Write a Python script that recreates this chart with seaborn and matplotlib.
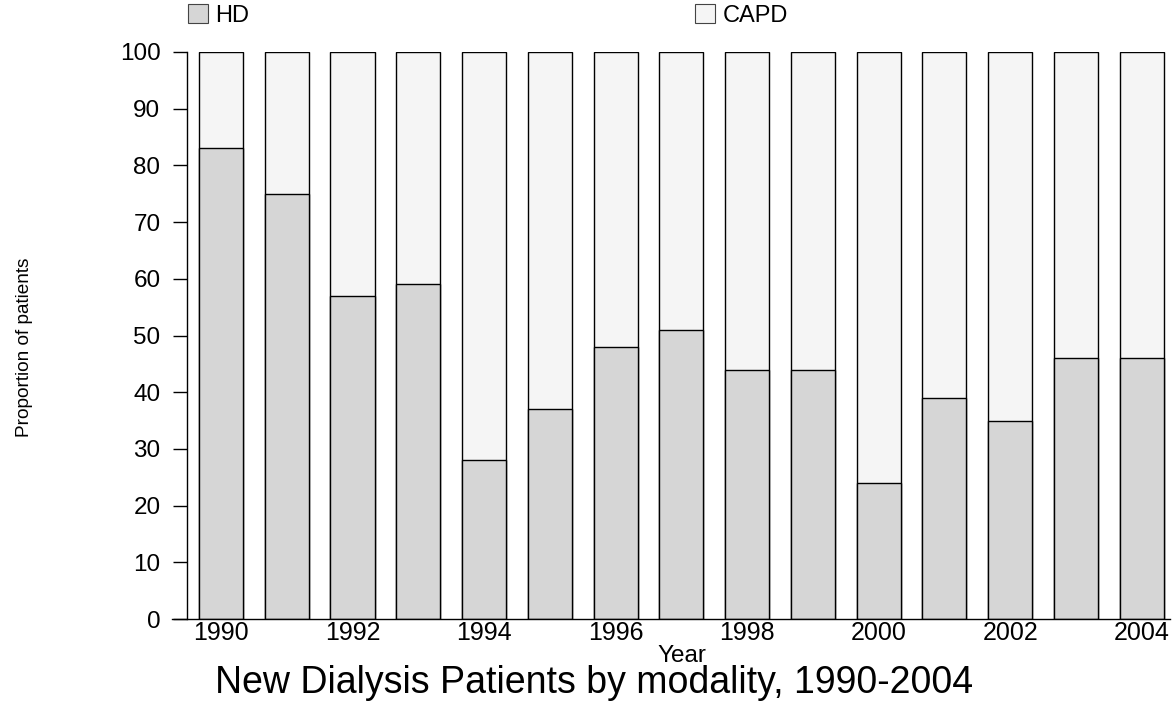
import numpy as np
import pandas as pd
import matplotlib
matplotlib.use("Agg")
import matplotlib.pyplot as plt
import seaborn as sns
from matplotlib.patches import Patch

# Данные: доля пациентов на HD по годам (остальное - CAPD)
years = [1990, 1991, 1992, 1993, 1994, 1995, 1996, 1997,
         1998, 1999, 2000, 2001, 2002, 2003, 2004]
hd = [83, 75, 57, 59, 28, 37, 48, 51, 44, 44, 24, 39, 35, 46, 46]
total = [100] * len(years)
tick_years = [1990, 1992, 1994, 1996, 1998, 2000, 2002, 2004]

hd_color = "#d6d6d6"
capd_color = "#f5f5f5"

df = pd.DataFrame({"Year": [str(y) for y in years], "HD": hd, "Total": total})

sns.set_style("white")
plt.rcParams["font.family"] = ["Liberation Sans", "DejaVu Sans"]
plt.rcParams["text.color"] = "black"
plt.rcParams["xtick.color"] = "black"
plt.rcParams["ytick.color"] = "black"

W, H = 1176, 707
fig = plt.figure(figsize=(W / 100, H / 100), dpi=100)
ax = fig.add_axes([172 / W, 1 - 619 / H, (1170 - 172) / W, (619 - 52) / H])

# CAPD - полный столбец, HD поверх него
sns.barplot(data=df, x="Year", y="Total", color=capd_color, width=0.67,
            edgecolor="black", linewidth=1, saturation=1, ax=ax)
sns.barplot(data=df, x="Year", y="HD", color=hd_color, width=0.67,
            edgecolor="black", linewidth=1, saturation=1, ax=ax)

ax.set_xlim(-0.745, 14.43)
ax.set_ylim(0, 100)
ax.set_yticks(range(0, 101, 10))
ax.set_xticks([years.index(y) for y in tick_years])
ax.set_xticklabels([str(y) for y in tick_years])

ax.spines["top"].set_visible(False)
ax.spines["right"].set_visible(False)
ax.spines["left"].set_position(("data", -0.52))
for s in ["left", "bottom"]:
    ax.spines[s].set_color("black")
    ax.spines[s].set_linewidth(1)

ax.tick_params(axis="y", direction="out", length=10, width=1,
               labelsize=17.5, pad=9, left=True)
ax.tick_params(axis="x", length=0, labelsize=18, pad=1.5)

ax.set_xlabel("")
ax.set_ylabel("")
fig.text(682 / W, 1 - 662 / H, "Year", fontsize=17.5, ha="center", va="baseline")
fig.text(25 / W, 1 - 347 / H, "Proportion of patients", rotation=90,
         fontsize=13.7, ha="center", va="center")

fig.text(594 / W, 1 - 693 / H, "New Dialysis Patients by modality, 1990-2004",
         fontsize=27, ha="center", va="baseline")

handles = [Patch(facecolor=hd_color, edgecolor="#444444", linewidth=0.8, label="HD"),
           Patch(facecolor=capd_color, edgecolor="#444444", linewidth=0.8, label="CAPD")]
fig.legend(handles=handles, loc="upper left", bbox_to_anchor=(188 / W, 1 - 4 / H),
           ncol=2, frameon=False, fontsize=17, handlelength=0.85, handleheight=0.85,
           handletextpad=0.3, columnspacing=18.9, borderaxespad=0, borderpad=0)

fig.savefig("out.png", dpi=100)
